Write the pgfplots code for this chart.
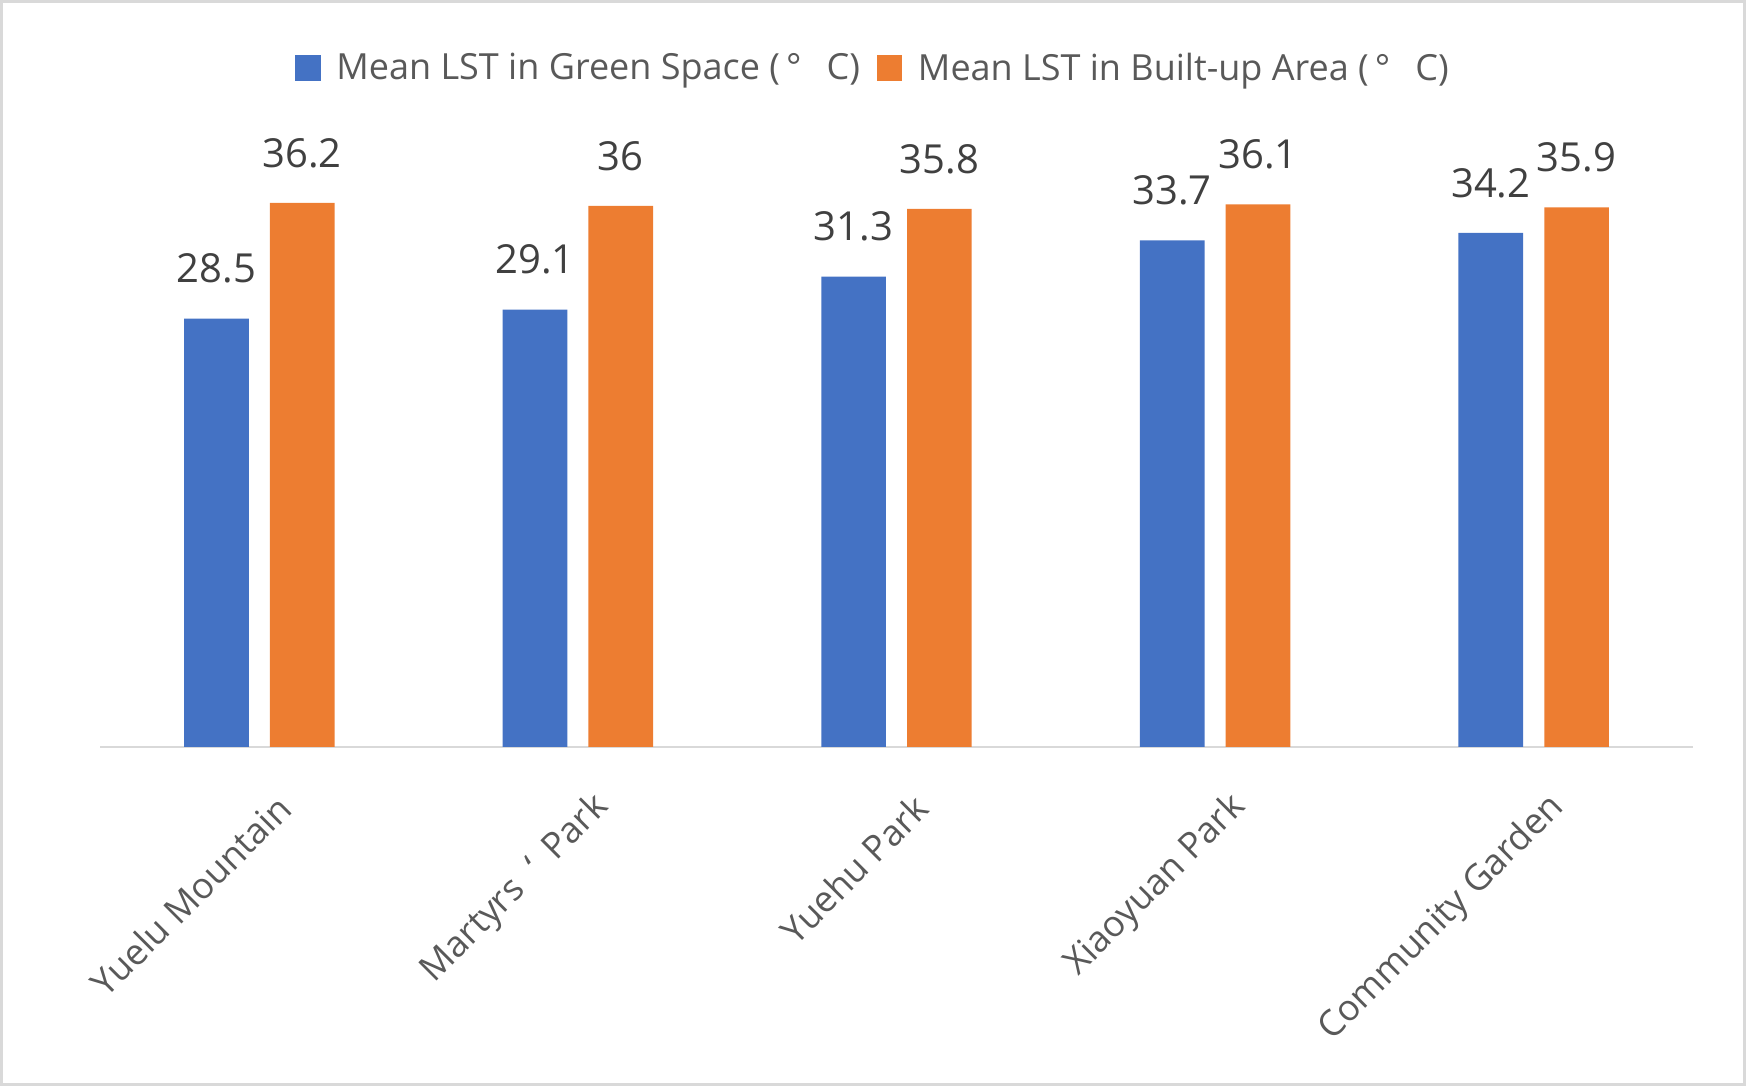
\documentclass[border=0pt]{standalone}
\usepackage{pgfplots}
\pgfplotsset{compat=1.18}
\usepackage{fontspec}
\setmainfont{Open Sans}

\definecolor{greenspace}{HTML}{4472C4}
\definecolor{builtup}{HTML}{ED7D31}
\definecolor{labeltext}{HTML}{595959}
\definecolor{valuetext}{HTML}{404040}
\definecolor{framegray}{HTML}{D9D9D9}

\pgfplotsset{
  sqlegend/.style={legend image code/.code={\fill[##1] (0bp,-6.4bp) rectangle (12.8bp,6.4bp);}},
}

\begin{document}
\begin{tikzpicture}
\useasboundingbox (0,0) rectangle (873bp,543bp);
\draw[framegray, line width=1.5bp] (0.75bp,0.75bp) rectangle (872.25bp,542.25bp);
\begin{axis}[
  at={(50bp,169.5bp)}, anchor=south west,
  scale only axis, width=796.5bp, height=300.6bp,
  xmin=-0.5, xmax=4.5, ymin=0, ymax=40,
  clip=false,
  ybar, bar width=0.203,
  axis x line*=bottom, axis y line=none,
  x axis line style={framegray, line width=1.35bp, -},
  xtick={0,1,2,3,4},
  xticklabels={Yuelu Mountain, Martyrs\hspace{0.55em}‘\hspace{0.45em}Park, Yuehu Park, Xiaoyuan Park, Community Garden},
  major tick length=0pt,
  xticklabel style={font=\fontsize{18bp}{21bp}\selectfont, text=labeltext,
    xshift=15bp, yshift=-25bp, rotate=45, anchor=east},
  /pgf/number format/assume math mode=true,
  nodes near coords,
  every node near coord/.append style={anchor=center, yshift=25bp,
    font=\fontsize{20bp}{24bp}\selectfont, text=valuetext},
  legend columns=2,
  legend style={at={(axis description cs:0.5,1)}, anchor=center,
    xshift=-12.25bp, yshift=38.9bp, draw=none, fill=none,
    font=\fontsize{18bp}{21bp}\selectfont, text=labeltext,
    nodes={inner sep=0pt},
    /tikz/every odd column/.append style={column sep=7.8bp},
    /tikz/every even column/.append style={column sep=8.4bp}},
]
\addplot[bar shift=-0.1346, fill=greenspace, draw=none, sqlegend]
  coordinates {(0,28.5) (1,29.1) (2,31.3) (3,33.7) (4,34.2)};
\addlegendentry{Mean LST in Green Space (\,°\hspace{0.7em}C)}
\addplot[bar shift=0.1346, fill=builtup, draw=none, sqlegend]
  coordinates {(0,36.2) (1,36) (2,35.8) (3,36.1) (4,35.9)};
\addlegendentry{Mean LST in Built-up Area (\,°\hspace{0.7em}C)}
\end{axis}
\end{tikzpicture}
\end{document}
